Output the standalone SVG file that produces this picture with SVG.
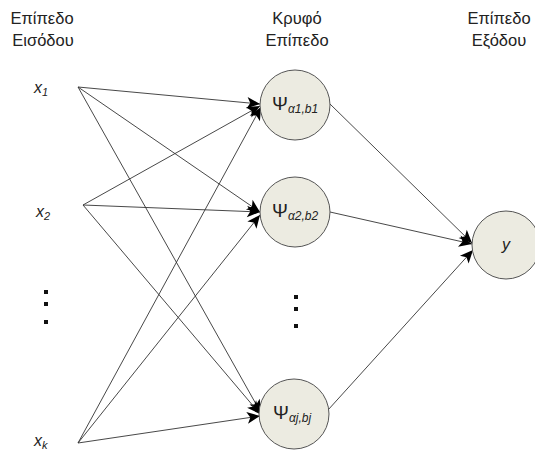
<svg xmlns="http://www.w3.org/2000/svg" width="535" height="454" viewBox="0 0 535 454">
  <style>
    .hdr { font-family: "Liberation Sans", Arial, sans-serif; font-size: 16.5px; fill: #222; text-anchor: middle; }
    .var { font-family: "Liberation Sans", Arial, sans-serif; font-size: 16px; font-style: italic; fill: #222; }
    .sub { font-size: 11px; }
    .psi { font-family: "Liberation Sans", "DejaVu Sans", sans-serif; font-size: 19px; fill: #222; }
    .psub { font-family: "Liberation Sans", Arial, sans-serif; font-size: 12px; font-style: italic; }
    .node { fill: #ecebe1; stroke: #555; stroke-width: 1; }
    .edge { stroke: #333; stroke-width: 0.9; fill: none; marker-end: url(#arrow); }
    .dot { fill: #111; }
  </style>
  <defs>
    <marker id="arrow" viewBox="0 0 10 10" refX="10" refY="5" markerWidth="14" markerHeight="13" markerUnits="userSpaceOnUse" orient="auto">
      <path d="M0,0.5 L10,5 L0,9.5 L2.5,5 Z" fill="#000"/>
    </marker>
  </defs>
  <rect width="535" height="454" fill="#fff"/>

  <!-- layer headings -->
  <g id="headings">
    <text class="hdr" x="42" y="24">Επίπεδο</text>
    <text class="hdr" x="43" y="46">Εισόδου</text>
    <text class="hdr" x="297" y="24">Κρυφό</text>
    <text class="hdr" x="297" y="46">Επίπεδο</text>
    <text class="hdr" x="499" y="24">Επίπεδο</text>
    <text class="hdr" x="499" y="46">Εξόδου</text>
  </g>

  <!-- connectors -->
  <g id="connectors">
    <line class="edge" x1="78" y1="87" x2="260" y2="104"/>
    <line class="edge" x1="78" y1="87" x2="260" y2="212"/>
    <line class="edge" x1="78" y1="87" x2="261" y2="413"/>
    <line class="edge" x1="83" y1="205" x2="260" y2="106"/>
    <line class="edge" x1="83" y1="205" x2="260" y2="212"/>
    <line class="edge" x1="83" y1="205" x2="260" y2="414"/>
    <line class="edge" x1="78" y1="443" x2="261" y2="107"/>
    <line class="edge" x1="78" y1="443" x2="260" y2="215"/>
    <line class="edge" x1="78" y1="443" x2="260" y2="416"/>
    <line class="edge" x1="330" y1="104" x2="472" y2="243"/>
    <line class="edge" x1="330" y1="212" x2="472" y2="244"/>
    <line class="edge" x1="328" y1="410" x2="473" y2="250"/>
  </g>

  <!-- input layer -->
  <g id="x1"><text class="var" x="34" y="93">x<tspan class="sub" dy="3">1</tspan></text></g>
  <g id="x2"><text class="var" x="36" y="217">x<tspan class="sub" dy="3">2</tspan></text></g>
  <g id="input-dots">
    <rect class="dot" x="44" y="290" width="4" height="4"/>
    <rect class="dot" x="44" y="302" width="4" height="4"/>
    <rect class="dot" x="44" y="320" width="4" height="4"/>
  </g>
  <g id="xk"><text class="var" x="34" y="446">x<tspan class="sub" dy="3">k</tspan></text></g>

  <!-- hidden layer -->
  <g id="h1">
    <circle class="node" cx="295" cy="105" r="35"/>
    <text class="psi" x="272" y="110">Ψ<tspan class="psub" dy="3">α1,b1</tspan></text>
  </g>
  <g id="h2">
    <circle class="node" cx="295" cy="212" r="35"/>
    <text class="psi" x="272" y="217">Ψ<tspan class="psub" dy="3">α2,b2</tspan></text>
  </g>
  <g id="hidden-dots">
    <rect class="dot" x="294" y="295" width="4" height="4"/>
    <rect class="dot" x="294" y="307" width="4" height="4"/>
    <rect class="dot" x="294" y="324" width="4" height="4"/>
  </g>
  <g id="hj">
    <circle class="node" cx="294" cy="414" r="35"/>
    <text class="psi" x="273" y="419">Ψ<tspan class="psub" dy="3">αj,bj</tspan></text>
  </g>

  <!-- output layer -->
  <g id="y">
    <circle class="node" cx="506" cy="245" r="34"/>
    <text class="var" x="502" y="250">y</text>
  </g>
</svg>
